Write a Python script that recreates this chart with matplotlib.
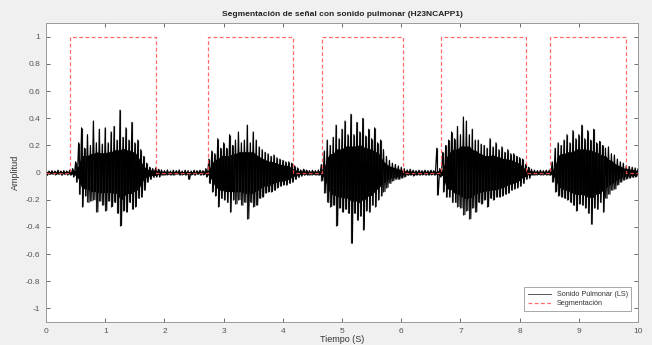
import numpy as np
import matplotlib
matplotlib.use("Agg")
import matplotlib.pyplot as plt

plt.rcParams['font.family'] = ['Liberation Sans', 'DejaVu Sans']
plt.rcParams['axes.unicode_minus'] = False

# Sample times (s), every 0.05 s
time_s = [round(0.05 * i, 2) for i in range(201)]

# Upper (positive) peak envelope
amp_upper = [
    0.02, 0.012, 0.015, 0.012, 0.018, 0.012, 0.015, 0.012, 0.018, 0.03,
    0.08, 0.22, 0.33, 0.18, 0.28, 0.20, 0.38, 0.22, 0.32, 0.21,
    0.33, 0.22, 0.30, 0.34, 0.24, 0.46, 0.26, 0.33, 0.24, 0.37,
    0.22, 0.24, 0.17, 0.12, 0.07, 0.04, 0.03, 0.035, 0.025, 0.02,
    0.015, 0.02, 0.012, 0.018, 0.015, 0.02, 0.012, 0.018, 0.015, 0.012,
    0.018, 0.015, 0.018, 0.015, 0.03, 0.10, 0.16, 0.14, 0.25, 0.18,
    0.22, 0.18, 0.28, 0.20, 0.24, 0.30, 0.22, 0.24, 0.35, 0.22,
    0.30, 0.24, 0.19, 0.17, 0.15, 0.14, 0.12, 0.13, 0.11, 0.10,
    0.09, 0.08, 0.08, 0.07, 0.05, 0.035, 0.02, 0.025, 0.018, 0.015,
    0.018, 0.015, 0.02, 0.06, 0.16, 0.24, 0.20, 0.26, 0.35, 0.25,
    0.32, 0.38, 0.28, 0.43, 0.28, 0.37, 0.30, 0.40, 0.27, 0.32,
    0.25, 0.33, 0.22, 0.24, 0.17, 0.12, 0.09, 0.07, 0.06, 0.05,
    0.04, 0.03, 0.02, 0.025, 0.018, 0.015, 0.018, 0.015, 0.018, 0.015,
    0.018, 0.015, 0.18, 0.03, 0.15, 0.20, 0.24, 0.30, 0.25, 0.34,
    0.28, 0.41, 0.38, 0.28, 0.32, 0.24, 0.24, 0.21, 0.20, 0.18,
    0.25, 0.19, 0.22, 0.17, 0.19, 0.15, 0.17, 0.14, 0.14, 0.12,
    0.11, 0.10, 0.06, 0.04, 0.025, 0.018, 0.015, 0.018, 0.015, 0.018,
    0.02, 0.08, 0.18, 0.22, 0.20, 0.24, 0.28, 0.22, 0.31, 0.25,
    0.28, 0.35, 0.25, 0.31, 0.24, 0.32, 0.22, 0.23, 0.20, 0.18,
    0.19, 0.14, 0.13, 0.10, 0.08, 0.07, 0.05, 0.045, 0.04, 0.035,
    0.03,
]

# Lower (negative) peak envelope
amp_lower = [
    -0.02, -0.012, -0.012, -0.015, -0.012, -0.018, -0.012, -0.015, -0.018, -0.03,
    -0.07, -0.16, -0.25, -0.17, -0.22, -0.21, -0.20, -0.29, -0.21, -0.24,
    -0.28, -0.21, -0.25, -0.22, -0.30, -0.39, -0.28, -0.29, -0.22, -0.27,
    -0.25, -0.19, -0.18, -0.13, -0.07, -0.05, -0.035, -0.03, -0.03, -0.02,
    -0.018, -0.015, -0.018, -0.018, -0.012, -0.018, -0.015, -0.018, -0.05, -0.015,
    -0.018, -0.012, -0.018, -0.015, -0.03, -0.08, -0.14, -0.17, -0.25, -0.19,
    -0.20, -0.22, -0.29, -0.20, -0.23, -0.20, -0.24, -0.22, -0.34, -0.22,
    -0.25, -0.24, -0.19, -0.18, -0.15, -0.14, -0.14, -0.13, -0.11, -0.10,
    -0.09, -0.09, -0.08, -0.07, -0.05, -0.035, -0.025, -0.018, -0.018, -0.018,
    -0.015, -0.018, -0.02, -0.06, -0.15, -0.22, -0.25, -0.24, -0.39, -0.26,
    -0.29, -0.27, -0.30, -0.52, -0.30, -0.35, -0.32, -0.42, -0.28, -0.29,
    -0.24, -0.25, -0.20, -0.17, -0.14, -0.11, -0.08, -0.06, -0.05, -0.05,
    -0.04, -0.03, -0.02, -0.018, -0.022, -0.018, -0.018, -0.015, -0.018, -0.018,
    -0.015, -0.018, -0.165, -0.03, -0.14, -0.18, -0.18, -0.22, -0.22, -0.25,
    -0.26, -0.31, -0.28, -0.34, -0.26, -0.29, -0.22, -0.23, -0.20, -0.25,
    -0.19, -0.20, -0.18, -0.18, -0.17, -0.16, -0.15, -0.13, -0.12, -0.11,
    -0.10, -0.08, -0.05, -0.04, -0.02, -0.018, -0.015, -0.018, -0.015, -0.018,
    -0.02, -0.07, -0.14, -0.17, -0.18, -0.19, -0.20, -0.22, -0.24, -0.28,
    -0.23, -0.24, -0.26, -0.30, -0.38, -0.26, -0.27, -0.22, -0.29, -0.19,
    -0.16, -0.13, -0.12, -0.09, -0.07, -0.055, -0.045, -0.04, -0.035, -0.03,
    -0.03,
]

# Segmentation windows (s)
seg_start = [0.41, 2.73, 4.66, 6.67, 8.51]
seg_end = [1.86, 4.18, 6.03, 8.10, 9.79]

title = "Segmentación de señal con sonido pulmonar (H23NCAPP1)"
x_label = "Tiempo (S)"
y_label = "Amplitud"
legend_labels = ["Sonido Pulmonar (LS)", "Segmentación"]
x_ticks = list(range(0, 11))
y_ticks = [-1, -0.8, -0.6, -0.4, -0.2, 0, 0.2, 0.4, 0.6, 0.8, 1]
y_tick_labels = ["-1", "-0.8", "-0.6", "-0.4", "-0.2", "0", "0.2", "0.4", "0.6", "0.8", "1"]

fig = plt.figure(figsize=(6.52, 3.45), dpi=100, facecolor="#f0f0f0")
ax = fig.add_axes([0.0706, 0.0667, 0.908, 0.866])
ax.set_facecolor("white")

t = np.array(time_s)
up = np.array(amp_upper)
lo = np.array(amp_lower)

# Dense core: local minimum of the peak envelope over neighbouring samples
core_up = np.minimum(np.minimum(up, np.roll(up, 1)), np.roll(up, -1)) * 0.7
core_lo = np.maximum(np.maximum(lo, np.roll(lo, 1)), np.roll(lo, -1)) * 0.7
ax.fill_between(t, core_lo, core_up, color="black", linewidth=0, zorder=2)

# Peaks: alternate between upper and lower peaks (waveform look)
xz = np.empty(2 * len(t))
yz = np.empty(2 * len(t))
xz[0::2] = t
xz[1::2] = t + 0.025
yz[0::2] = up
yz[1::2] = lo
ax.vlines(t, lo, up, color="#1a1a1a", linewidth=0.85, zorder=2)
sig_line, = ax.plot(xz, yz, color="black", linewidth=0.8, zorder=2)

# Segmentation step signal
seg_x = [0.0]
seg_y = [0.0]
for s, e in zip(seg_start, seg_end):
    seg_x += [s, s, e, e]
    seg_y += [0, 1, 1, 0]
seg_x.append(10.0)
seg_y.append(0.0)
seg_line, = ax.plot(seg_x, seg_y, color="#ff5050", linestyle=(0, (3, 2)),
                    linewidth=0.9, alpha=0.85, zorder=3)

ax.set_xlim(0, 10)
ax.set_ylim(-1.1, 1.1)
ax.set_xticks(x_ticks)
ax.set_yticks(y_ticks)
ax.set_yticklabels(y_tick_labels)
ax.tick_params(direction="in", length=3, width=0.6, labelsize=6,
               colors="#555555", top=True, right=True, pad=4)
for sp in ax.spines.values():
    sp.set_color("#9a9a9a")
    sp.set_linewidth(0.7)

ax.set_title(title, fontsize=6.0, fontweight="bold", color="#222222", pad=5)
ax.set_xlabel(x_label, fontsize=6.5, color="#333333", labelpad=0)
ax.set_ylabel(y_label, fontsize=6.5, color="#333333", labelpad=4)

leg = ax.legend([sig_line, seg_line], legend_labels, loc="lower right",
                fontsize=5.2, frameon=True, fancybox=False, framealpha=1,
                edgecolor="#9a9a9a", borderpad=0.5, handlelength=3.2,
                labelspacing=0.3, bbox_to_anchor=(0.995, 0.025))
leg.get_frame().set_linewidth(0.6)
leg.get_lines()[0].set_color("#555555")
leg.get_lines()[0].set_linewidth(0.7)
for txt in leg.get_texts():
    txt.set_color("#333333")

fig.savefig("out.png", dpi=100, facecolor=fig.get_facecolor())
